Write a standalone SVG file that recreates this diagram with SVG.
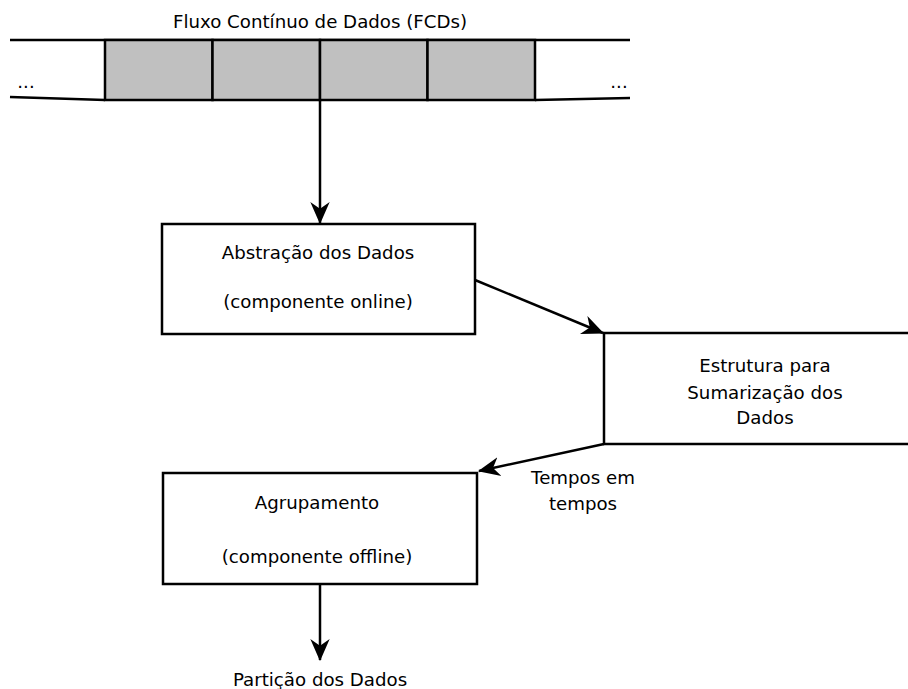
<svg xmlns="http://www.w3.org/2000/svg" width="908" height="689" viewBox="0 0 908 689">
<style>
.t{font-family:"DejaVu Sans","Liberation Sans",sans-serif;font-size:18.2px;fill:#000;text-anchor:middle}
.ln{stroke:#000;stroke-width:2.5;fill:none}
.box{stroke:#000;stroke-width:2.5;fill:#fff}
.cell{stroke:#000;stroke-width:2.5;fill:#c0c0c0}
</style>
<defs>
<marker id="ah" viewBox="0 0 10 10" refX="9.5" refY="5" markerWidth="22" markerHeight="22" markerUnits="userSpaceOnUse" orient="auto">
<path d="M0,0.6 L10,5 L0,9.4 L3,5 z" fill="#000"/>
</marker>
</defs>
<g id="stream">
<text class="t" x="320" y="28">Fluxo Contínuo de Dados (FCDs)</text>
<line class="ln" x1="10" y1="40" x2="630" y2="40"/>
<line class="ln" x1="10" y1="97" x2="105" y2="100"/>
<line class="ln" x1="535" y1="100" x2="630" y2="98"/>
<rect class="cell" x="105" y="40" width="107.5" height="60"/>
<rect class="cell" x="212.5" y="40" width="107.5" height="60"/>
<rect class="cell" x="320" y="40" width="107.5" height="60"/>
<rect class="cell" x="427.5" y="40" width="107.5" height="60"/>
<text class="t" x="26" y="88">...</text>
<text class="t" x="619" y="88">...</text>
</g>
<g id="connectors">
<line class="ln" x1="320" y1="100" x2="320" y2="223" marker-end="url(#ah)"/>
<line class="ln" x1="475" y1="280" x2="603" y2="333" marker-end="url(#ah)"/>
<line class="ln" x1="604" y1="444" x2="479" y2="471" marker-end="url(#ah)"/>
<line class="ln" x1="320" y1="584" x2="320" y2="660" marker-end="url(#ah)"/>
</g>
<g id="abstracao">
<rect class="box" x="162" y="224" width="313" height="110"/>
<text class="t" x="318" y="259">Abstração dos Dados</text>
<text class="t" x="318" y="308">(componente online)</text>
</g>
<g id="estrutura">
<path class="ln" d="M912,333 L604,333 L604,444 L912,444" fill="#fff"/>
<text class="t" x="765" y="372">Estrutura para</text>
<text class="t" x="765" y="399">Sumarização dos</text>
<text class="t" x="765" y="424">Dados</text>
</g>
<g id="tempos">
<text class="t" x="583" y="484">Tempos em</text>
<text class="t" x="583" y="510">tempos</text>
</g>
<g id="agrupamento">
<rect class="box" x="163" y="473" width="314" height="111"/>
<text class="t" x="317" y="509">Agrupamento</text>
<text class="t" x="317" y="563">(componente offline)</text>
</g>
<g id="particao">
<text class="t" x="320" y="686">Partição dos Dados</text>
</g>
</svg>
